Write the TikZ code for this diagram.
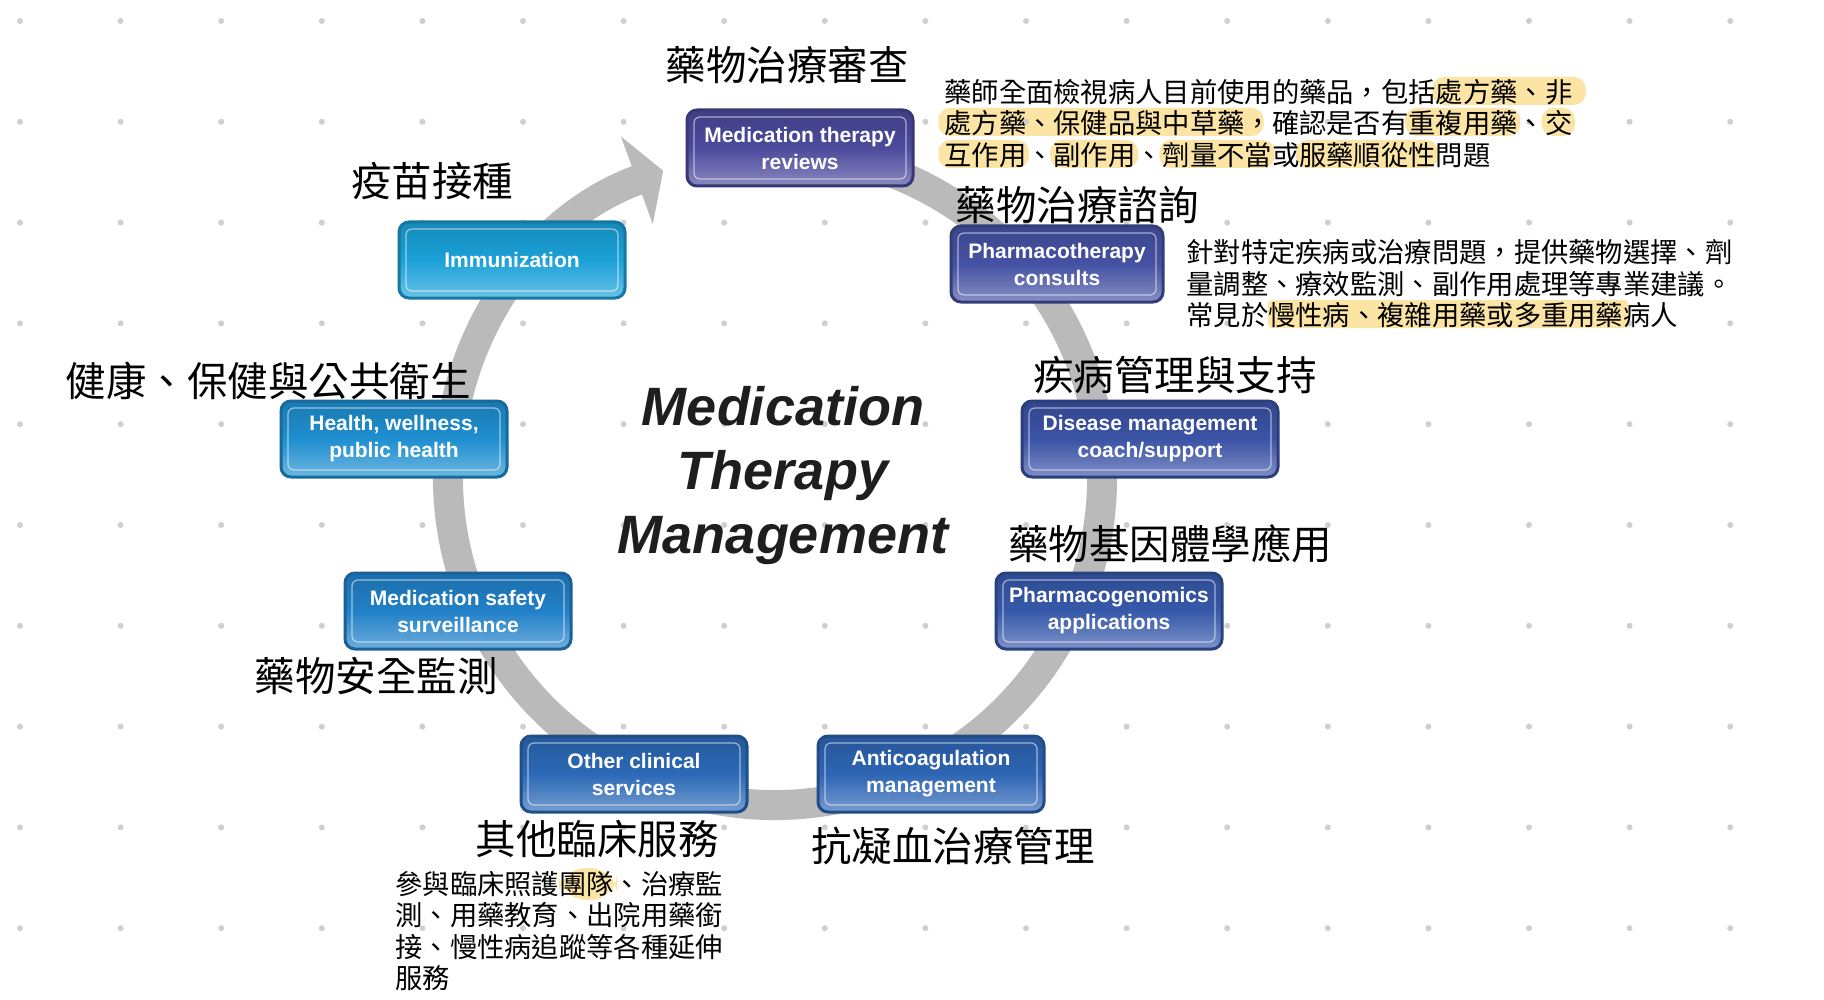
\documentclass[tikz,border=0pt]{standalone}
\usepackage{fontspec}
\setmainfont{Liberation Sans}
\newfontfamily\cjk{Noto Sans CJK TC}
\usetikzlibrary{arrows.meta,calc}

\definecolor{ringc}{HTML}{BABABA}
\definecolor{dotc}{HTML}{CFCFCF}
\definecolor{hlc}{HTML}{FCE4A4}
\definecolor{titlec}{HTML}{1E1E1E}
\definecolor{cImm}{HTML}{1BA1D8}
\definecolor{cHea}{HTML}{1F8FD0}
\definecolor{cSaf}{HTML}{2181C8}
\definecolor{cOth}{HTML}{2B69B6}
\definecolor{cAnt}{HTML}{2E65B4}
\definecolor{cPgx}{HTML}{3759AA}
\definecolor{cDis}{HTML}{3B53A5}
\definecolor{cCon}{HTML}{4552A3}
\definecolor{cRev}{HTML}{4C4A9C}

\pgfdeclarelayer{back}
\pgfsetlayers{back,main}

\tikzset{
  svc/.style={rounded corners=5pt, draw=#1!75!black, line width=1.5pt,
    top color=#1!85!black, bottom color=#1!65!white, middle color=#1,
    text=white, font=\bfseries\fontsize{10.5}{13.5}\selectfont, align=center,
    minimum width=113pt, minimum height=38pt, inner sep=0pt,
    path picture={\draw[white, opacity=.55, line width=.6pt, rounded corners=3pt]
      ([shift={(3.5pt,3.5pt)}]path picture bounding box.south west) rectangle
      ([shift={(-3.5pt,-3.5pt)}]path picture bounding box.north east);}},
  zh/.style={font=\cjk\fontsize{20.25}{24}\selectfont},
  note/.style={font=\cjk\fontsize{13.65}{16}\selectfont, anchor=west, inner sep=0pt},
  hl/.style={fill=hlc, rounded corners=6pt},
}
\def\cw{27.3}

\begin{document}
\begin{tikzpicture}[x=0.5pt, y=-0.5pt]
  \useasboundingbox (0,0) rectangle (1824,1000);
  \begin{pgfonlayer}{back}
    \fill[white] (0,0) rectangle (1824,1000);
  \end{pgfonlayer}
  % dot grid
  \foreach \i in {0,...,17}
    \foreach \j in {0,...,9}
      \fill[dotc] (20+100.6*\i, 21+100.8*\j) circle (3);
  % ring
  \coordinate (hub) at (775,478);
  \draw[ringc, line width=15pt, -{Triangle[width=46pt,length=14pt]}]
    ($(hub)+(-100:327)$) arc[start angle=-100, end angle=250, radius=327];
  % services
  \node[svc=cRev] (mtr) at (800,148) {Medication therapy\\reviews};
  \node[svc=cCon, minimum width=106pt] (ptc) at (1057,264) {Pharmacotherapy\\consults};
  \node[svc=cDis, minimum width=128pt] (dmc) at (1150,439) {Disease management\\coach/support};
  \node[svc=cPgx] (pga) at (1109,611) {Pharmacogenomics\\applications};
  \node[svc=cAnt] (acm) at (931,774) {Anticoagulation\\management};
  \node[svc=cOth] (ocs) at (634,774) {Other clinical\\services};
  \node[svc=cSaf] (mss) at (458,611) {Medication safety\\surveillance};
  \node[svc=cHea] (hwp) at (394,439) {Health, wellness,\\public health};
  \node[svc=cImm] (imm) at (512,260) {Immunization};
  % title
  \node[font=\bfseries\itshape\fontsize{27}{32}\selectfont, text=titlec, align=center]
    (mtm) at (783,476) {Medication\\Therapy\\Management};
  % chinese headings
  \node[zh] (zMtr) at (787,65) {藥物治療審查};
  \node[zh] (zPtc) at (1077,205) {藥物治療諮詢};
  \node[zh] (zDmc) at (1175,375) {疾病管理與支持};
  \node[zh] (zPga) at (1170,544) {藥物基因體學應用};
  \node[zh] (zAcm) at (953,846) {抗凝血治療管理};
  \node[zh] (zOcs) at (597,839) {其他臨床服務};
  \node[zh] (zMss) at (376,676) {藥物安全監測};
  \node[zh] (zHwp) at (268,381) {健康、保健與公共衛生};
  \node[zh] (zImm) at (432,181) {疫苗接種};
  % notes
  \node[note] (r1) at (944,92) {藥師全面檢視病人目前使用的藥品，包括處方藥、非};
  \node[note] (r2) at (944,123) {處方藥、保健品與中草藥，確認是否有重複用藥、交};
  \node[note] (r3) at (944,155) {互作用、副作用、劑量不當或服藥順從性問題};
  \node[note] (c1) at (1186,252) {針對特定疾病或治療問題，提供藥物選擇、劑};
  \node[note] (c2) at (1186,284) {量調整、療效監測、副作用處理等專業建議。};
  \node[note] (c3) at (1186,315) {常見於慢性病、複雜用藥或多重用藥病人};
  \node[note] (o1) at (395,884) {參與臨床照護團隊、治療監};
  \node[note] (o2) at (395,915) {測、用藥教育、出院用藥銜};
  \node[note] (o3) at (395,947) {接、慢性病追蹤等各種延伸};
  \node[note] (o4) at (395,978) {服務};
  % highlights
  \begin{pgfonlayer}{back}
    \foreach \ln/\a/\b in {r1/18/23.4, r2/-0.1/11.6, r2/17/21, r2/22/23, r3/-0.1/3, r3/4/7, r3/8/12, r3/13/18}
      \fill[hl] ($(\ln.west)+(\a*\cw-3,-15)$) rectangle ($(\ln.west)+(\b*\cw+3,13)$);
    \fill[hl, rounded corners=2pt] ($(c3.west)+(3*\cw,-15)$) rectangle ($(c3.west)+(16.2*\cw,13)$);
    \fill[hl, rounded corners=14pt] ($(o1.west)+(6*\cw,-16)$) rectangle ($(o1.west)+(8*\cw+4,16)$);
  \end{pgfonlayer}
\end{tikzpicture}
\end{document}
